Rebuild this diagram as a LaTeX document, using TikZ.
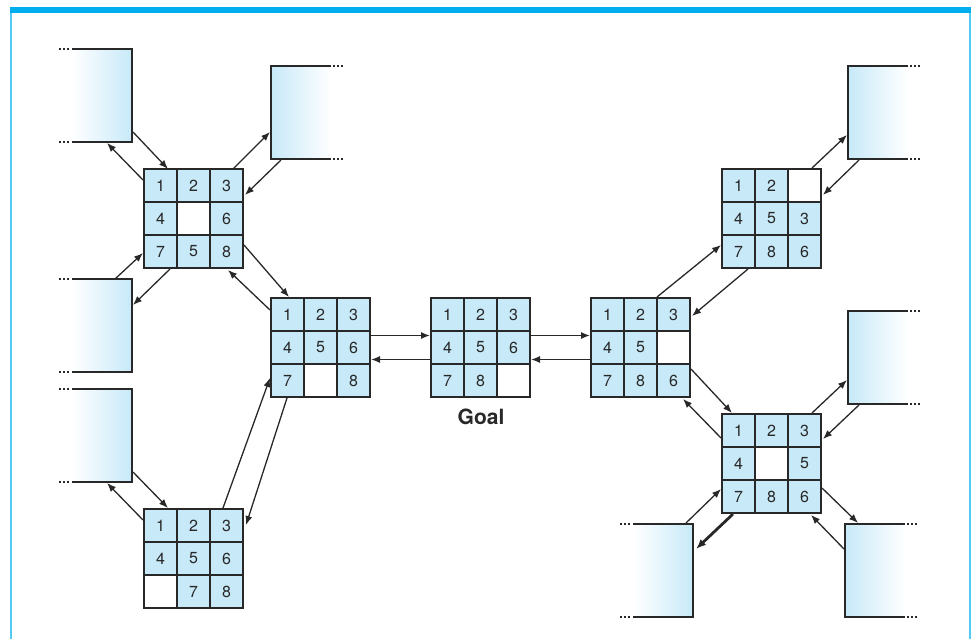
\documentclass[tikz,border=0pt]{standalone}
\usepackage{fontspec}
\setmainfont{TeX Gyre Heros}
\usetikzlibrary{arrows.meta}
\usetikzlibrary{calc}
\definecolor{tileblue}{RGB}{199,233,248}
\definecolor{framecyan}{RGB}{0,174,239}
\definecolor{sidecyan}{RGB}{84,201,243}
\definecolor{inkgray}{RGB}{40,40,40}

\newcommand{\eightpuzzle}[3]{%
    \node[board] (#1) at (#2) {};
    \foreach \t [count=\i from 0] in {#3}{
        \pgfmathtruncatemacro\tcol{mod(\i,3)}
        \pgfmathtruncatemacro\trow{floor(\i/3)}
        \ifnum\t=0
            \node[tile,fill=white] (#1-\i) at ($(#1.north west)+(16.5+33*\tcol,16.5+33*\trow)$) {};
        \else
            \node[tile] (#1-\i) at ($(#1.north west)+(16.5+33*\tcol,16.5+33*\trow)$) {\t};
        \fi
    }
}
\newcommand{\openleftbox}[2]{%
    \node[stub,left color=white,right color=tileblue] (#1) at (#2) {};
    \draw[edge] (#1.north west) -- (#1.north east) -- (#1.south east) -- (#1.south west);
    \draw[dots] ($(#1.north west)+(-13,0)$) -- ++(11,0);
    \draw[dots] ($(#1.south west)+(-13,0)$) -- ++(11,0);
}
\newcommand{\openrightbox}[2]{%
    \node[stub,left color=tileblue,right color=white] (#1) at (#2) {};
    \draw[edge] (#1.north east) -- (#1.north west) -- (#1.south west) -- (#1.south east);
    \draw[dots] ($(#1.north east)+(2,0)$) -- ++(11,0);
    \draw[dots] ($(#1.south east)+(2,0)$) -- ++(11,0);
}

\begin{document}
\begin{tikzpicture}[x=1pt,y=-1pt,
        board/.style={anchor=north west,minimum size=99pt,inner sep=0pt,outer sep=0pt},
        tile/.style={draw=inkgray,line width=1.8pt,fill=tileblue,minimum size=33pt,inner sep=0pt,
            text=inkgray,font=\fontsize{16}{18}\selectfont},
        stub/.style={anchor=north west,minimum width=60pt,minimum height=93pt,inner sep=0pt,outer sep=0pt},
        edge/.style={draw=inkgray,line width=1.8pt},
        dots/.style={draw=inkgray,line width=1.6pt,dash pattern=on 2pt off 2pt},
        arr/.style={draw=inkgray,line width=1.3pt,-{Latex[length=9pt,width=7pt]}},
        heavy/.style={line width=2.8pt,-{Latex[length=10pt,width=8pt]}}]
        \useasboundingbox (0,0) rectangle (974,639);
        \fill[framecyan] (10,7) rectangle (971,13);
        \draw[sidecyan,line width=2pt] (11,13) -- (11,639);
        \draw[sidecyan,line width=2pt] (970,13) -- (970,639);

        \eightpuzzle{sA}{144,169}{1,2,3,4,0,6,7,5,8}
        \eightpuzzle{sB}{271,298}{1,2,3,4,5,6,7,0,8}
        \eightpuzzle{goal}{431,298}{1,2,3,4,5,6,7,8,0}
        \eightpuzzle{sD}{591,298}{1,2,3,4,5,0,7,8,6}
        \eightpuzzle{sE}{722,169}{1,2,0,4,5,3,7,8,6}
        \eightpuzzle{sF}{722,414}{1,2,3,4,0,5,7,8,6}
        \eightpuzzle{sG}{144,509}{1,2,3,4,5,6,0,7,8}
        \node[font=\bfseries\fontsize{21}{24}\selectfont,text=inkgray] (goaltext) at (481,417) {Goal};

        \openleftbox{ul}{72,49}
        \openrightbox{ur}{271,66}
        \openleftbox{ml}{72,279}
        \openleftbox{ll}{72,389}
        \openrightbox{rt}{848,66}
        \openrightbox{rm}{848,311}
        \openleftbox{lb}{633,524}
        \openrightbox{rb}{845,524}

        \draw[arr] ($(ul.south east)+(1,-10)$) -- ($(sA.north west)+(24,0)$);
        \draw[arr] ($(sA.north west)+(-1,11)$) -- ($(ul.south east)+(-25,1)$);
        \draw[arr] ($(sA.north east)+(-10,0)$) -- ($(ur.south west)+(-1,-27)$);
        \draw[arr] ($(ur.south west)+(10,1)$) -- ($(sA.north east)+(2,26)$);
        \draw[arr] ($(ml.north east)+(-17,0)$) -- ($(sA.south west)+(-1,-15)$);
        \draw[arr] ($(sA.south west)+(26,1)$) -- ($(ml.north east)+(1,26)$);
        \draw[arr] ($(sA.south east)+(1,-23)$) -- ($(sB.north west)+(18,-1)$);
        \draw[arr] ($(sB.north west)+(-1,12)$) -- ($(sA.south east)+(-15,2)$);
        \draw[arr] ($(sB.east)+(1,-12)$) -- ($(goal.west)+(-1,-12)$);
        \draw[arr] ($(goal.west)+(-1,12)$) -- ($(sB.east)+(1,12)$);
        \draw[arr] ($(sG.north east)+(-20,-1)$) -- ($(sB.south west)+(-1,-19)$);
        \draw[arr] ($(sB.south west)+(16,1)$) -- ($(sG.north east)+(3,16)$);
        \draw[arr] ($(ll.south east)+(1,-10)$) -- ($(sG.north west)+(24,-1)$);
        \draw[arr] ($(sG.north west)+(-1,11)$) -- ($(ll.south east)+(-25,1)$);
        \draw[arr] ($(goal.east)+(1,-12)$) -- ($(sD.west)+(-1,-12)$);
        \draw[arr] ($(sD.west)+(-1,12)$) -- ($(goal.east)+(1,12)$);
        \draw[arr] ($(sD.north east)+(-33,-1)$) -- ($(sE.south west)+(-1,-23)$);
        \draw[arr] ($(sE.south west)+(26,1)$) -- ($(sD.north east)+(2,18)$);
        \draw[arr] ($(sD.south east)+(1,-28)$) -- ($(sF.north west)+(10,-1)$);
        \draw[arr] ($(sF.north west)+(-1,24)$) -- ($(sD.south east)+(-7,2)$);
        \draw[arr] ($(sE.north east)+(-9,-1)$) -- ($(rt.south west)+(-1,-24)$);
        \draw[arr] ($(rt.south west)+(11,1)$) -- ($(sE.north east)+(2,26)$);
        \draw[arr] ($(sF.north east)+(-9,-1)$) -- ($(rm.south west)+(-1,-24)$);
        \draw[arr] ($(rm.south west)+(11,1)$) -- ($(sF.north east)+(2,25)$);
        \draw[arr] ($(lb.north east)+(-7,-1)$) -- ($(sF.south west)+(-1,-24)$);
        \draw[arr,heavy] ($(sF.south west)+(11,1)$) -- ($(lb.north east)+(3,25)$);
        \draw[arr] ($(sF.south east)+(1,-25)$) -- ($(rb.north west)+(13,-1)$);
        \draw[arr] ($(rb.north west)+(-1,25)$) -- ($(sF.south east)+(-10,2)$);
\end{tikzpicture}
\end{document}
